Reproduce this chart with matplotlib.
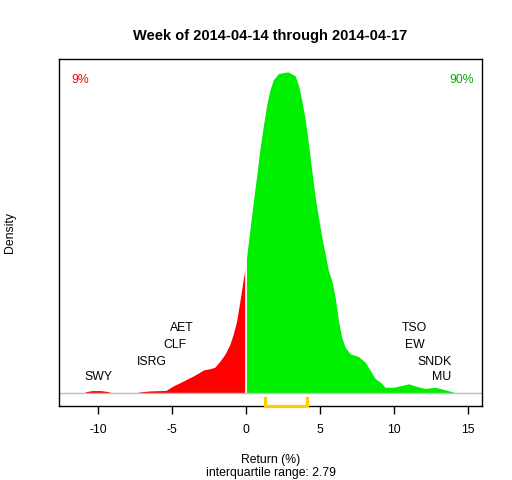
import numpy as np
import matplotlib
matplotlib.use("Agg")
import matplotlib.pyplot as plt

plt.rcParams['font.family'] = ['Liberation Sans', 'DejaVu Sans']
plt.rcParams['axes.unicode_minus'] = False

# density estimate of weekly returns
ret = [-11.6, -11.0, -10.8, -10.4, -9.8, -9.3, -9.1, -8.8, -7.5, -7.2, -6.5, -5.8,
       -5.4, -4.9, -4.22, -3.54, -3.1, -2.86, -2.43, -2.1, -1.76, -1.42, -1.08,
       -0.86, -0.63, -0.41, -0.18, 0.0, 0.1, 0.29, 0.51, 0.74, 0.96, 1.18, 1.41,
       1.63, 1.86, 2.2, 2.84, 3.33, 3.56, 3.78, 4.0, 4.23, 4.45, 4.68, 4.9, 5.13,
       5.35, 5.57, 5.8, 6.03, 6.25, 6.47, 6.7, 7.04, 7.6, 8.06, 8.4, 8.74, 9.08,
       9.4, 10.0, 10.4, 11.0, 11.55, 12.1, 12.8, 13.5, 14.1, 14.3]
dens = [0.0, 0.0, 0.0009, 0.0015, 0.0015, 0.0009, 0.0002, 0.0, 0.0, 0.0007,
        0.0013, 0.0015, 0.0016, 0.0043, 0.0072, 0.0102, 0.0124, 0.0137, 0.0144,
        0.0153, 0.0188, 0.0229, 0.0288, 0.0347, 0.0424, 0.0541, 0.0671, 0.0765,
        0.0841, 0.0976, 0.1135, 0.1288, 0.1447, 0.1576, 0.1700, 0.1788, 0.1847,
        0.1882, 0.1892, 0.1869, 0.1810, 0.1722, 0.1614, 0.1467, 0.1310, 0.1153,
        0.1035, 0.0918, 0.0820, 0.0722, 0.0663, 0.0565, 0.0428, 0.0329, 0.0271,
        0.0232, 0.0216, 0.0182, 0.0134, 0.0085, 0.0065, 0.0035, 0.0035, 0.0043,
        0.0055, 0.0039, 0.0028, 0.0034, 0.0019, 0.0004, 0.0]

pct_down = "9%"
pct_up = "90%"
q1, q3 = 1.32, 4.11
iqr = 2.79

low_names = ["SWY", "ISRG", "CLF", "AET"]
low_x = [-10.0, -6.34, -4.78, -4.33]
high_names = ["TSO", "EW", "SNDK", "MU"]
high_x = [11.4, 11.4, 12.73, 13.24]

x = np.linspace(min(ret), max(ret), 600)
y = np.interp(x, ret, dens)
peak = max(dens)

fs = 8.8

fig = plt.figure(figsize=(5.12, 4.8), dpi=100)
ax = fig.add_axes([59.3 / 512, 1 - 406 / 480, 422.4 / 512, 347 / 480])

ax.fill_between(x, 0, y, where=x <= 0, color='#FF0000', linewidth=0, antialiased=False)
ax.fill_between(x, 0, y, where=x >= 0, color='#00EE00', linewidth=0, antialiased=False)
ax.axvline(0, color='white', lw=1.2)
ax.axhline(0, color='#BEBEBE', lw=1)

ax.set_xlim(-12.61, 15.93)
ax.set_ylim(-0.04 * peak, 1.04 * peak)

# interquartile bracket, drawn over the bottom of the box
yb = -0.04 * peak
ax.plot([q1, q1, q3, q3], [yb + 0.024 * peak, yb, yb, yb + 0.024 * peak],
        color='#FFCC00', lw=2.3, solid_joinstyle='miter', clip_on=False, zorder=5)

rows = [0.049, 0.097, 0.151, 0.204]
for name, xv, r in zip(low_names, low_x, rows):
    ax.text(xv, r * peak, name, ha='center', va='center', fontsize=fs)
for name, xv, r in zip(high_names, high_x, rows[::-1]):
    ax.text(xv, r * peak, name, ha='center', va='center', fontsize=fs)

ax.text(0.05, 0.94, pct_down, transform=ax.transAxes, color='#FF0000',
        fontsize=fs, ha='center', va='center')
ax.text(0.952, 0.94, pct_up, transform=ax.transAxes, color='#00B000',
        fontsize=fs, ha='center', va='center')

ax.set_xticks([-10, -5, 0, 5, 10, 15])
ax.set_yticks([])
ax.tick_params(axis='x', length=6, width=1, labelsize=fs, pad=7)
for s in ax.spines.values():
    s.set_linewidth(1)

ax.set_title("Week of 2014-04-14 through 2014-04-17", fontsize=10.5,
             fontweight='bold', pad=14)
ax.set_xlabel("Return (%)\ninterquartile range: " + format(iqr, ".2f"), fontsize=fs,
              labelpad=13, linespacing=1.1)
fig.text(10 / 512, 1 - 232.7 / 480, "Density", rotation=90, fontsize=fs,
         ha='center', va='center')

fig.savefig("out.png", dpi=100)
